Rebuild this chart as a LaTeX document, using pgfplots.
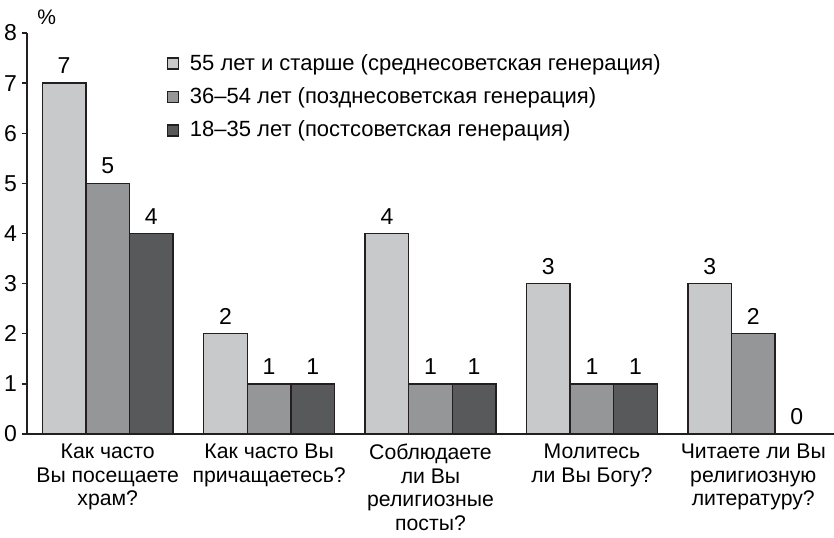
\documentclass[border=0pt]{standalone}
\usepackage{pgfplots}
\pgfplotsset{compat=1.18}
\usepackage{fontspec}
\setmainfont{Liberation Sans}
\definecolor{cA}{HTML}{C8C9CB}
\definecolor{cB}{HTML}{959698}
\definecolor{cC}{HTML}{58595B}
\definecolor{edge}{HTML}{231F20}
\begin{document}
\begin{tikzpicture}
\begin{axis}[
  name=ax,
  scale only axis,
  width=403.5pt, height=200.5pt,
  font=\fontsize{10.5}{12}\selectfont,
  /pgf/number format/assume math mode=true,
  ybar=0pt, bar width=0.27,
  xmin=-0.5, xmax=4.5, ymin=0, ymax=8,
  axis lines*=left,
  axis line style={edge, line width=0.7pt},
  xtick={0,1,2,3,4},
  xticklabels={{Как часто\\Вы посещаете\\храм?},{Как часто Вы\\причащаетесь?},{Соблюдаете\\ли Вы\\религиозные\\посты?},{Молитесь\\ли Вы Богу?},{Читаете ли Вы\\религиозную\\литературу?}},
  xticklabel style={align=center, yshift=1pt, font=\fontsize{10.6}{11.8}\selectfont},
  x tick style={draw=none},
  extra x ticks={0.5,1.5,2.5,3.5},
  extra x tick labels={},
  extra x tick style={tick style={draw=edge, line width=0.7pt}, major tick length=3pt, tick align=outside},
  ytick={0,...,8},
  y tick style={draw=edge, line width=0.7pt},
  major tick length=2.5pt,
  tick align=outside,
  yticklabel style={xshift=1pt, font=\fontsize{11.5}{12}\selectfont},
  nodes near coords,
  every node near coord/.append style={font=\fontsize{11.5}{12}\selectfont, yshift=1pt},
  legend style={at={(0.165,0.968)}, anchor=north west, draw=none, fill=none,
    font=\fontsize{11}{12}\selectfont, row sep=3.2pt,
    legend cell align=left},
  legend image code/.code={\draw[#1] (0pt,-2.75pt) rectangle (5.5pt,2.75pt); \path (9pt,0pt);},
  clip=false,
]
\addplot[fill=cA, draw=edge, line width=0.7pt] coordinates {(0,7) (1,2) (2,4) (3,3) (4,3)};
\addplot[fill=cB, draw=edge, line width=0.7pt] coordinates {(0,5) (1,1) (2,1) (3,1) (4,2)};
\addplot[fill=cC, draw=edge, line width=0.7pt] coordinates {(0,4) (1,1) (2,1) (3,1) (4,0)};
\legend{55 лет и старше (среднесоветская генерация),36–54 лет (позднесоветская генерация),18–35 лет (постсоветская генерация)}
\node[anchor=south west, inner sep=0pt] at ([xshift=5pt, yshift=4pt]rel axis cs:0,1) {\%};
\end{axis}
\pgfresetboundingbox
\path ([xshift=-13.5pt, yshift=-52pt]ax.south west) rectangle ([yshift=16.5pt]ax.north east);
\end{tikzpicture}
\end{document}
